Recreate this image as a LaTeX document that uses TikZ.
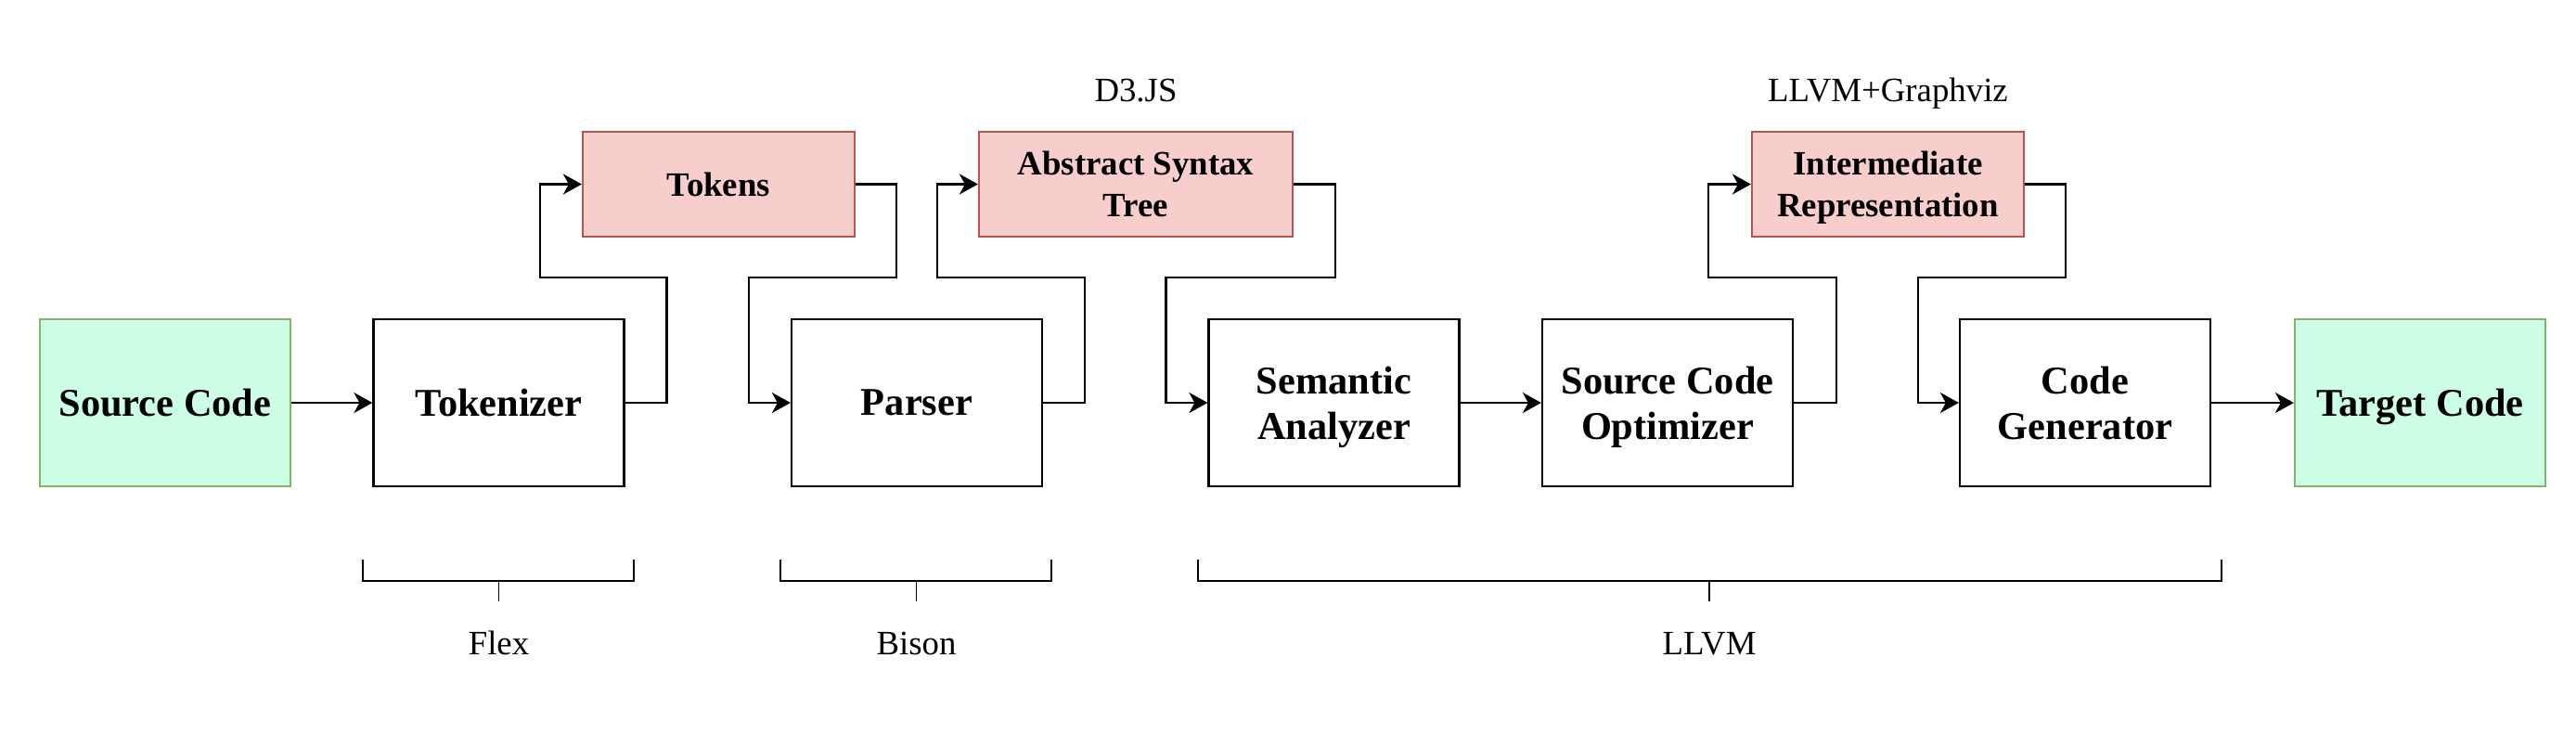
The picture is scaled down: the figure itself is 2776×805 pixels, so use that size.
\documentclass[tikz,border=0pt]{standalone}
\usepackage{fontspec}
\setmainfont{Liberation Serif}
\usetikzlibrary{arrows.meta}
\definecolor{srcfill}{HTML}{CCFFE6}
\definecolor{srcdraw}{HTML}{82B366}
\definecolor{datafill}{HTML}{F8CECC}
\definecolor{datadraw}{HTML}{B85450}

\begin{document}
\begin{tikzpicture}[x=0.25pt, y=-0.25pt]
		\tikzstyle{stage}=[rectangle, draw, line width=0.55pt, minimum width=67.5pt, minimum height=45pt, inner sep=0pt, text depth=0pt, align=center, font=\fontsize{10.6}{12.2}\selectfont\bfseries]
		\tikzstyle{code}=[stage, fill=srcfill, draw=srcdraw]
		\tikzstyle{data}=[stage, fill=datafill, draw=datadraw, minimum width=73.25pt, minimum height=28.25pt, font=\fontsize{9.2}{11.25}\selectfont\bfseries]
		\tikzstyle{tool}=[inner sep=0pt, text depth=0pt, font=\fontsize{9.2}{11}\selectfont]
		\tikzstyle{flow}=[line width=0.6pt, -{Stealth[length=5pt, width=5.5pt, inset=1.5pt]}]
		\tikzstyle{bracket}=[line width=0.5pt]

		\useasboundingbox (0,0) rectangle (2776,805);

		\node[code] (Source) at (178,434) {Source Code};
		\node[stage] (Tokenizer) at (537.5,434) {Tokenizer};
		\node[stage] (Parser) at (988,434) {Parser};
		\node[stage] (Semantic) at (1437.5,434) {Semantic\\Analyzer};
		\node[stage] (Optimizer) at (1797,434) {Source Code\\Optimizer};
		\node[stage] (Generator) at (2247,434) {Code\\Generator};
		\node[code] (Target) at (2608,434) {Target Code};

		\node[data] (Tokens) at (774.5,198.5) {Tokens};
		\node[data, minimum width=84.5pt, label={[tool, name=D3, label distance=7.75pt]above:D3.JS}] (AST) at (1224,198.5) {Abstract Syntax\\Tree};
		\node[data, label={[tool, name=Graphviz, label distance=7.75pt]above:LLVM+Graphviz}] (IR) at (2034.5,198.5) {Intermediate\\Representation};

		\draw[flow] (Source) -- (Tokenizer);
		\draw[flow] (Tokenizer.east) -- ++(45,0) -- ++(0,-135) -| ([xshift=-11.25pt]Tokens.west) -- (Tokens.west);
		\draw[flow] (Tokens.east) -- ++(44,0) -- ++(0,100.5) -| ([xshift=-11.25pt]Parser.west) -- (Parser.west);
		\draw[flow] (Parser.east) -- ++(45,0) -- ++(0,-135) -| ([xshift=-11pt]AST.west) -- (AST.west);
		\draw[flow] (AST.east) -- ++(45,0) -- ++(0,100.5) -| ([xshift=-11.25pt]Semantic.west) -- (Semantic.west);
		\draw[flow] (Semantic) -- (Optimizer);
		\draw[flow] (Optimizer.east) -- ++(46,0) -- ++(0,-135) -| ([xshift=-11.5pt]IR.west) -- (IR.west);
		\draw[flow] (IR.east) -- ++(44,0) -- ++(0,100.5) -| ([xshift=-11pt]Generator.west) -- (Generator.west);
		\draw[flow] (Generator) -- (Target);

		\draw[bracket] (391,603) |- (683,626) -- (683,603);
		\draw[line width=0.3pt] (537.5,626) -- (537.5,648);
		\node[tool, anchor=base] (Flex) at (537.5,705) {Flex};

		\draw[bracket] (841,603) |- (1133,626) -- (1133,603);
		\draw[line width=0.3pt] (987.5,626) -- (987.5,648);
		\node[tool, anchor=base] (Bison) at (987.5,705) {Bison};

		\draw[bracket] (1291,603) |- (2394,626) -- (2394,603);
		\draw[line width=0.3pt] (1842,626) -- (1842,648);
		\node[tool, anchor=base] (LLVM) at (1842,705) {LLVM};
\end{tikzpicture}
\end{document}
